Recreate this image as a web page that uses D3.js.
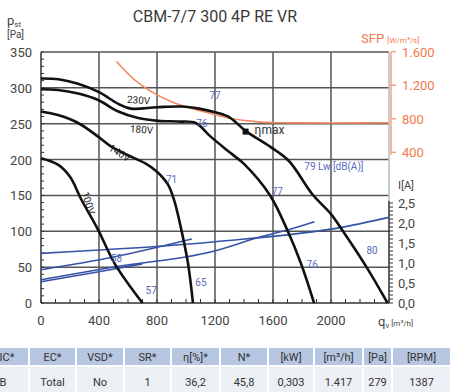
<!DOCTYPE html>
<html>
<head>
<meta charset="utf-8">
<script src="https://cdn.jsdelivr.net/npm/d3@7"></script>
<style>
  body { margin: 0; background: #fff; }
  svg { display: block; font-family: "Liberation Sans Narrow", "Roboto", sans-serif; }
  .grid line { stroke: #555; stroke-width: 1.5; }
  .tick-label { fill: #444; font-size: 13px; }
</style>
</head>
<body>
<svg id="chart" width="453" height="392"></svg>
<script>
// pressure curves [q m3/h, p Pa]
const curve230 = [[0,313],[120,312],[250,306],[400,294],[530,278],[620,271],[800,273],[970,274],[1090,271],[1200,266],[1300,259],[1410,240],[1580,218],[1710,198],[1870,152],[2000,124],[2083,100],[2245,50],[2390,0]];
const curve180 = [[0,298],[117,297],[256,292],[394,283],[533,267],[670,258],[810,254],[945,253],[1067,251],[1170,232],[1308,209],[1400,194],[1580,150],[1700,101],[1793,55],[1883,0]];
const curve140 = [[0,267],[117,262],[256,251],[394,232],[484,218],[600,206],[717,195],[800,183],[876,165],[920,142],[968,102],[1014,55],[1048,0]];
const curve100 = [[0,202],[117,193],[200,176],[279,144],[394,102],[508,55],[700,0]];
const pressureCurves = [curve230, curve180, curve140, curve100];

// SFP curve [q, W/m3/s]
const sfpCurve = [[521,1484],[646,1264],[761,1124],[900,1004],[1037,924],[1170,864],[1308,804],[1446,772],[1630,752],[2000,750],[2400,752]];

// current curves [q, A]
const current230 = [[0,1.24],[1200,1.53],[2100,1.91],[2400,2.14]];
const current180 = [[0,0.58],[500,0.9],[1176,1.28],[1522,1.66],[1706,1.83],[1886,2.03]];
const current140 = [[0,0.83],[500,1.15],[1040,1.6]];
const current100 = [[0,0.53],[400,0.78],[700,0.98]];
const currentCurves = [current230, current180, current140, current100];

// curve labels
const voltLabels = [
  { text: '230V', q: 671, p: 278, rot: 4 },
  { text: '180V', q: 692, p: 237, rot: 4 },
  { text: '140V', q: 530, p: 205, rot: 32 },
  { text: '100V', q: 305, p: 138, rot: 72 }
];
const dbLabels = [
  { text: '77', q: 1200, p: 284 },
  { text: '76', q: 1110, p: 246 },
  { text: '71', q: 900, p: 168 },
  { text: '79 Lw [dB(A)]', q: 2020, p: 185 },
  { text: '77', q: 1630, p: 151 },
  { text: '58', q: 520, p: 57 },
  { text: '57', q: 760, p: 12 },
  { text: '65', q: 1103, p: 24 },
  { text: '76', q: 1870, p: 49 },
  { text: '80', q: 2283, p: 68 }
];
const etaMax = { q: 1411, p: 239 };

const pTicks = [0, 50, 100, 150, 200, 250, 300, 350];
const qTicks = [0, 400, 800, 1200, 1600, 2000];
const sfpTicks = [400, 800, 1200, 1600];
const sfpTickLabels = ['400', '800', '1.200', '1.600'];
const iTicks = [0, 0.5, 1.0, 1.5, 2.0, 2.5];
const iTickLabels = ['0,0', '0,5', '1,0', '1,5', '2,0', '2,5'];

const tableHead = ['IC*', 'EC*', 'VSD*', 'SR*', 'η[%]*', 'N*', '[kW]', '[m³/h]', '[Pa]', '[RPM]'];
const tableRow = ['B', 'Total', 'No', '1', '36,2', '45,8', '0,303', '1.417', '279', '1387'];
const colEdges = [-20, 30, 77, 125, 172, 221, 269, 315, 364, 393, 452];

const svg = d3.select('#chart');

const x = d3.scaleLinear().domain([0, 2400]).range([41, 389]);
const y = d3.scaleLinear().domain([0, 350]).range([303, 52]);
const ySfp = d3.scaleLinear().domain([400, 1600]).range([152.3, 51.7]);
const yI = d3.scaleLinear().domain([0, 2.5]).range([303, 203]);

// title
svg.append('text')
  .attr('x', 215).attr('y', 22)
  .attr('text-anchor', 'middle')
  .attr('fill', '#3a3a3a')
  .attr('font-size', 16)
  .text('CBM-7/7 300 4P RE VR');

// axis titles
const pt = svg.append('text').attr('x', 7).attr('y', 25).attr('fill', '#444').attr('font-size', 13);
pt.append('tspan').text('p');
pt.append('tspan').attr('font-size', 8).attr('dy', 2).text('st');
svg.append('text').attr('x', 7).attr('y', 38).attr('fill', '#444').attr('font-size', 10).text('[Pa]');

const sfpT = svg.append('text').attr('x', 361).attr('y', 43).attr('fill', '#f07a4a').attr('font-size', 13);
sfpT.append('tspan').text('SFP ');
sfpT.append('tspan').attr('font-size', 8).text('[W/m³/s]');

svg.append('text').attr('x', 398).attr('y', 189).attr('fill', '#444').attr('font-size', 11).text('I[A]');

const qt = svg.append('text').attr('x', 378).attr('y', 326).attr('fill', '#444').attr('font-size', 13);
qt.append('tspan').text('q');
qt.append('tspan').attr('font-size', 8).attr('dy', 2).text('v');
qt.append('tspan').attr('font-size', 8).attr('dy', -2).text(' [m³/h]');

// grid
const grid = svg.append('g').attr('class', 'grid');
grid.selectAll('.vg').data(qTicks.filter(d => d > 0)).join('line')
  .attr('x1', d => x(d)).attr('x2', d => x(d))
  .attr('y1', y(350)).attr('y2', y(0));
grid.selectAll('.hg').data(pTicks.filter(d => d > 0)).join('line')
  .attr('x1', x(0)).attr('x2', x(2400))
  .attr('y1', d => y(d)).attr('y2', d => y(d))
  .attr('stroke', '#777').attr('stroke-width', 2);

// axes lines
const axisG = svg.append('g').attr('stroke', '#333').attr('stroke-width', 1.5);
axisG.append('line').attr('x1', x(0)).attr('x2', x(0)).attr('y1', y(350)).attr('y2', y(0));
axisG.append('line').attr('x1', x(0)).attr('x2', x(2400)).attr('y1', y(0)).attr('y2', y(0));
axisG.append('line').attr('x1', x(2400)).attr('x2', x(2400)).attr('y1', yI(2.55)).attr('y2', y(0));
axisG.append('line').attr('x1', x(2400)).attr('x2', x(2400)).attr('y1', y(350)).attr('y2', yI(2.55)).attr('stroke', '#bbb');

// minor ticks
axisG.selectAll('.lt').data(d3.range(0, 351, 10)).join('line')
  .attr('x1', x(0)).attr('x2', x(0) + 3)
  .attr('y1', d => y(d)).attr('y2', d => y(d)).attr('stroke-width', 1);
axisG.selectAll('.bt').data(d3.range(0, 2401, 100)).join('line')
  .attr('x1', d => x(d)).attr('x2', d => x(d))
  .attr('y1', y(0)).attr('y2', y(0) - 4).attr('stroke-width', 1);
axisG.selectAll('.it').data(d3.range(0, 26).map(d => d / 10)).join('line')
  .attr('x1', x(2400)).attr('x2', x(2400) + 4)
  .attr('y1', d => yI(d)).attr('y2', d => yI(d)).attr('stroke-width', 1);

// SFP axis
svg.append('line').attr('x1', x(2400) + 2).attr('x2', x(2400) + 2)
  .attr('y1', ySfp(1600)).attr('y2', ySfp(370))
  .attr('stroke', '#f5a080').attr('stroke-width', 1.5);
svg.selectAll('.st').data(sfpTicks).join('line')
  .attr('x1', x(2400) + 2).attr('x2', x(2400) + 7)
  .attr('y1', d => ySfp(d)).attr('y2', d => ySfp(d))
  .attr('stroke', '#f5a080').attr('stroke-width', 1.5);
svg.selectAll('.sl').data(sfpTicks).join('text')
  .attr('x', 402).attr('y', d => ySfp(d) + 5)
  .attr('fill', '#f07a4a').attr('font-size', 13)
  .text((d, i) => sfpTickLabels[i]);

// tick labels
svg.selectAll('.pl').data(pTicks).join('text')
  .attr('class', 'tick-label')
  .attr('x', 32).attr('y', d => y(d) + 5)
  .attr('text-anchor', 'end')
  .text(d => d);
svg.selectAll('.ql').data(qTicks).join('text')
  .attr('class', 'tick-label')
  .attr('x', d => x(d)).attr('y', 325)
  .attr('text-anchor', 'middle')
  .text(d => d);
svg.selectAll('.il').data(iTicks).join('text')
  .attr('class', 'tick-label')
  .attr('x', 398).attr('y', d => yI(d) + 5)
  .text((d, i) => iTickLabels[i]);

// current lines
const lineI = d3.line().x(d => x(d[0])).y(d => yI(d[1])).curve(d3.curveMonotoneX);
svg.append('g').selectAll('path').data(currentCurves).join('path')
  .attr('d', lineI)
  .attr('fill', 'none').attr('stroke', '#3553a6').attr('stroke-width', 1.6);

// SFP line
const lineS = d3.line().x(d => x(d[0])).y(d => ySfp(d[1])).curve(d3.curveMonotoneX);
svg.append('path').datum(sfpCurve)
  .attr('d', lineS)
  .attr('fill', 'none').attr('stroke', '#f08a62').attr('stroke-width', 1.6);

// pressure curves
const lineP = d3.line().x(d => x(d[0])).y(d => y(d[1])).curve(d3.curveCatmullRom);
svg.append('g').selectAll('path').data(pressureCurves).join('path')
  .attr('d', lineP)
  .attr('fill', 'none').attr('stroke', '#111').attr('stroke-width', 2.6);

// labels
svg.selectAll('.vl').data(voltLabels).join('text')
  .attr('transform', d => `translate(${x(d.q)},${y(d.p)}) rotate(${d.rot})`)
  .attr('text-anchor', 'middle')
  .attr('fill', '#222').attr('font-size', 10)
  .text(d => d.text);
svg.selectAll('.dl').data(dbLabels).join('text')
  .attr('x', d => x(d.q)).attr('y', d => y(d.p))
  .attr('text-anchor', 'middle')
  .attr('fill', '#5a6cc0').attr('font-size', 10)
  .text(d => d.text);

// eta max
svg.append('rect')
  .attr('x', x(etaMax.q) - 3).attr('y', y(etaMax.p) - 3)
  .attr('width', 6).attr('height', 6).attr('fill', '#111');
svg.append('text')
  .attr('x', x(etaMax.q) + 9).attr('y', y(etaMax.p) + 2)
  .attr('fill', '#333').attr('font-size', 12)
  .text('ηmax');

// table
const tbl = svg.append('g');
tableHead.forEach((h, i) => {
  const x0 = colEdges[i], x1 = colEdges[i + 1] - 2;
  tbl.append('rect').attr('x', x0).attr('y', 348).attr('width', x1 - x0).attr('height', 17).attr('fill', '#b7c7e2');
  tbl.append('rect').attr('x', x0).attr('y', 367).attr('width', x1 - x0).attr('height', 25).attr('fill', '#eceff4');
  const cx = i === 0 ? 7 : (x0 + x1) / 2;
  tbl.append('text').attr('x', cx).attr('y', 361).attr('text-anchor', 'middle')
    .attr('fill', '#333').attr('font-size', 11).text(h);
  tbl.append('text').attr('x', i === 0 ? 3 : cx).attr('y', 386).attr('text-anchor', 'middle')
    .attr('fill', '#333').attr('font-size', 11).text(tableRow[i]);
});
</script>
</body>
</html>
